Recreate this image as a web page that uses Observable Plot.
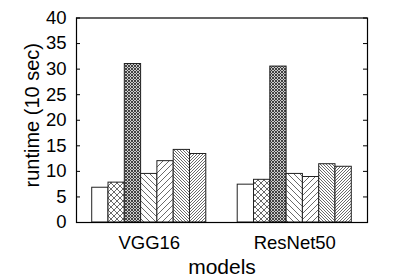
<!DOCTYPE html>
<html>
<head>
<meta charset="utf-8">
<script src="https://cdn.jsdelivr.net/npm/d3@7"></script>
<script src="https://cdn.jsdelivr.net/npm/@observablehq/plot@0.6"></script>
<style>
  html, body { margin: 0; padding: 0; background: white; }
</style>
</head>
<body>
<div id="chart"></div>
<script>
// ---- data ----
const models = ["VGG16", "ResNet50"];
const seriesIds = [0, 1, 2, 3, 4, 5, 6];
const vgg16 = [6.8, 7.8, 31.0, 9.5, 12.0, 14.2, 13.4];
const resnet50 = [7.4, 8.35, 30.5, 9.5, 8.9, 11.4, 10.9];
const yTicks = [0, 5, 10, 15, 20, 25, 30, 35, 40];
const yLabel = "runtime (10 sec)";
const xLabel = "models";

// ---- layout (not data) ----
const valuesByModel = [vgg16, resnet50];
const barW = 0.112;
const bars = [];
models.forEach((m, gi) => {
  seriesIds.forEach((s, i) => {
    const x1 = gi - (seriesIds.length / 2) * barW + i * barW;
    bars.push({model: m, s, x1, x2: x1 + barW, value: valuesByModel[gi][i]});
  });
});
const fills = ["white", "url(#p1)", "url(#p2)", "url(#p3)", "url(#p4)", "url(#p5)", "url(#p6)"];

const W = 399, H = 279;
const mL = 76, mR = 32, mT = 17.5, mB = 57;
const frameW = W - mL - mR;
const tickLen = 4;

const svg = Plot.plot({
  width: W,
  height: H,
  marginLeft: mL,
  marginRight: mR,
  marginTop: mT,
  marginBottom: mB,
  style: {fontFamily: "'Liberation Sans', Arial, Helvetica, sans-serif", background: "white", color: "black"},
  x: {type: "linear", domain: [-0.5, models.length - 0.5]},
  y: {domain: [0, 40]},
  marks: [
    Plot.rectY(bars, {x1: "x1", x2: "x2", y: "value", fill: d => fills[d.s], stroke: "#222", strokeWidth: 1}),
    Plot.tickY(yTicks, {y: d => d, stroke: "black", strokeWidth: 1, insetRight: frameW - tickLen}),
    Plot.tickY(yTicks, {y: d => d, stroke: "black", strokeWidth: 1, insetLeft: frameW - tickLen}),
    Plot.axisY({ticks: yTicks, tickSize: 0, tickPadding: 10, fontSize: 18.5, label: null}),
    Plot.axisX({ticks: models.map((m, i) => i), tickFormat: i => models[i], tickSize: 0, tickPadding: 13, fontSize: 18.5, label: null}),
    Plot.text([xLabel], {text: d => d, frameAnchor: "bottom", lineAnchor: "middle", textAnchor: "middle", dy: 44.5, fontSize: 21, fill: "black"}),
    Plot.text([yLabel], {text: d => d, frameAnchor: "left", lineAnchor: "middle", textAnchor: "middle", rotate: -90, dx: -44, dy: -5, fontSize: 20, fill: "black"}),
    Plot.frame({stroke: "black", strokeWidth: 1.2})
  ]
});

// pattern definitions
const defs = d3.select(svg).insert("defs", ":first-child");
function pat(id, size, d, sw, color, bg) {
  const p = defs.append("pattern").attr("id", id).attr("patternUnits", "userSpaceOnUse")
    .attr("width", size).attr("height", size);
  p.append("rect").attr("width", size).attr("height", size).attr("fill", bg || "white");
  p.append("path").attr("d", d).attr("stroke", color).attr("stroke-width", sw).attr("fill", "none");
}
// crosshatch
pat("p1", 6, "M0,0L6,6M6,0L0,6M-1,5L1,7M5,-1L7,1M-1,1L1,-1M5,7L7,5", 0.8, "#444");
// dense crosshatch
pat("p2", 3, "M0,0L3,3M3,0L0,3M-1,2L1,4M2,-1L4,1M-1,1L1,-1M2,4L4,2", 0.9, "#333", "#ccc");
// "\" lines
pat("p3", 6, "M0,0L6,6M-1,5L1,7M5,-1L7,1", 0.8, "#444");
// "/" lines
pat("p4", 6, "M0,6L6,0M-1,1L1,-1M5,7L7,5", 0.8, "#444");
// dense "\" lines
pat("p5", 3, "M0,0L3,3M-1,2L1,4M2,-1L4,1", 0.8, "#444");
// dense "/" lines
pat("p6", 3, "M0,3L3,0M-1,1L1,-1M2,4L4,2", 0.8, "#444");

document.getElementById("chart").appendChild(svg);
</script>
</body>
</html>
